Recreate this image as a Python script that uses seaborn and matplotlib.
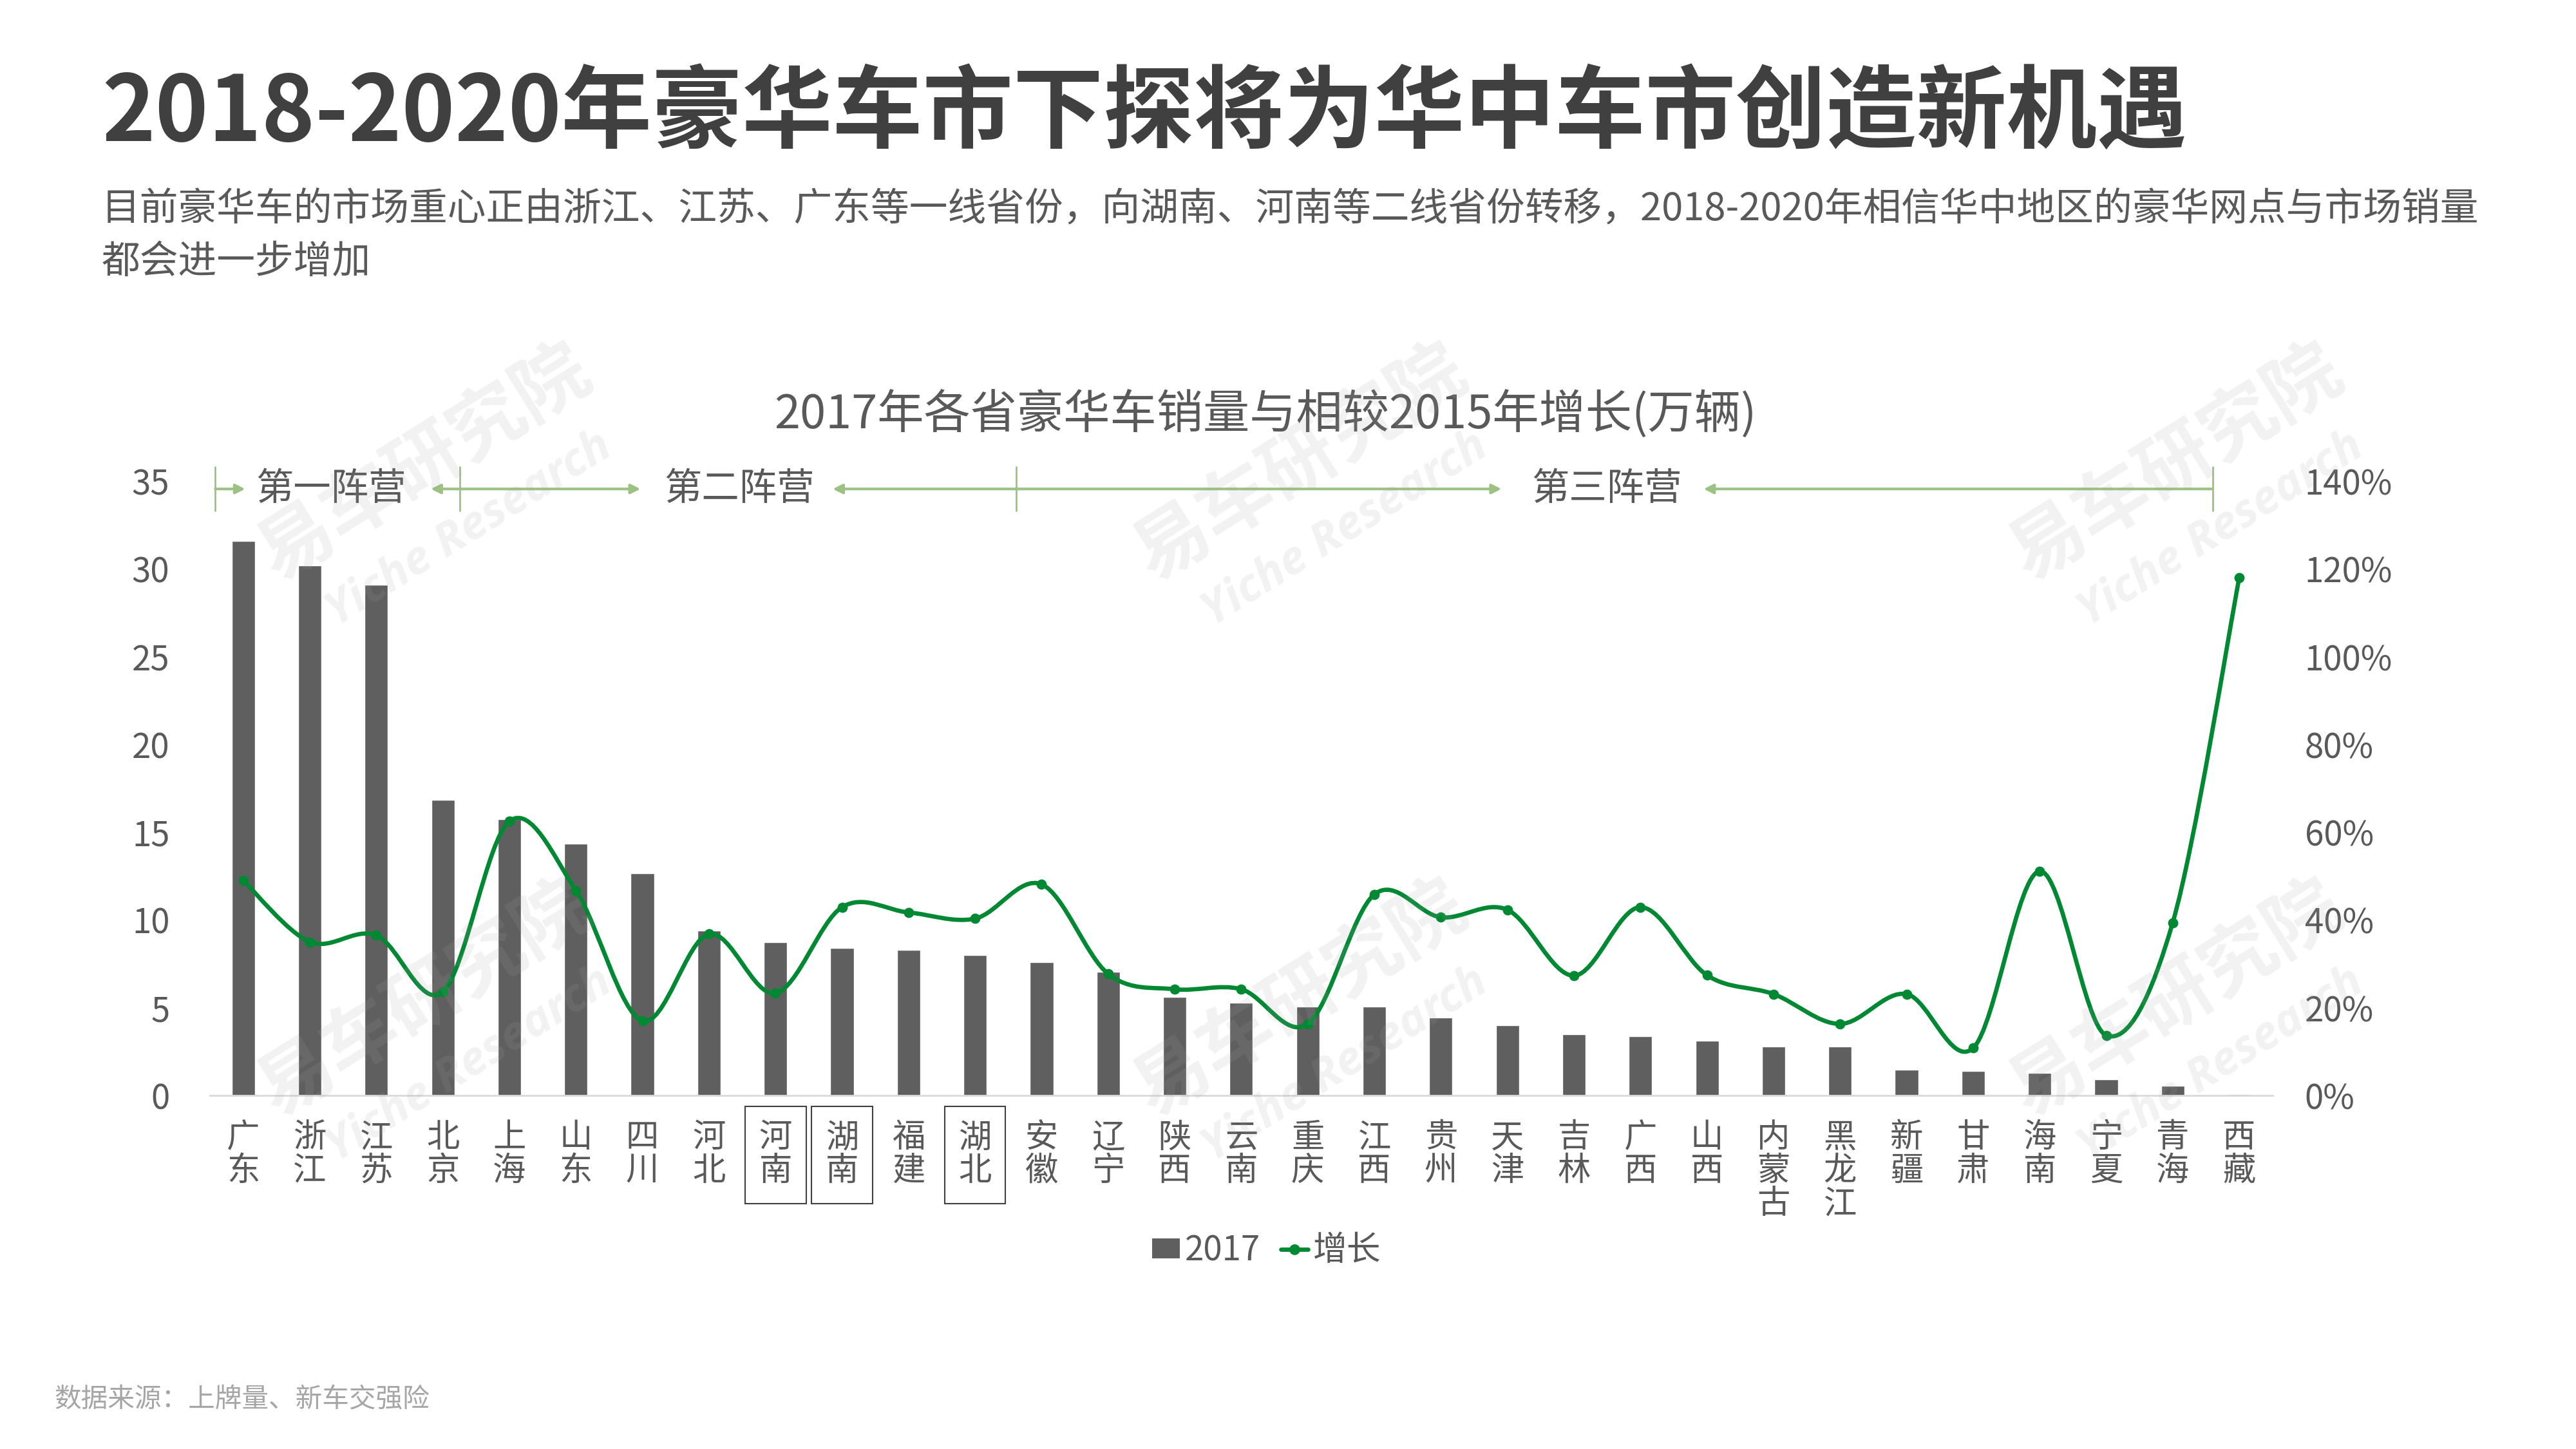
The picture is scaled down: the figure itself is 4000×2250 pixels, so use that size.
import numpy as np
import pandas as pd
import matplotlib
matplotlib.use("Agg")
import matplotlib.pyplot as plt
import seaborn as sns
from matplotlib.path import Path
from matplotlib.patches import PathPatch, Rectangle, FancyArrowPatch, Patch
from matplotlib.lines import Line2D
from matplotlib.transforms import blended_transform_factory
from matplotlib.ticker import PercentFormatter

# ---------------- data ----------------
provinces = ['广东', '浙江', '江苏', '北京', '上海', '山东', '四川', '河北', '河南', '湖南',
             '福建', '湖北', '安徽', '辽宁', '陕西', '云南', '重庆', '江西', '贵州', '天津',
             '吉林', '广西', '山西', '内蒙古', '黑龙江', '新疆', '甘肃', '海南', '宁夏', '青海', '西藏']
sales_2017 = [31.6, 30.2, 29.1, 16.85, 15.75, 14.35, 12.65, 9.4, 8.75, 8.4,
              8.3, 8.0, 7.6, 7.05, 5.6, 5.3, 5.08, 5.05, 4.45, 4.0,
              3.5, 3.38, 3.12, 2.8, 2.78, 1.46, 1.38, 1.27, 0.92, 0.56, 0.08]
growth = [0.49, 0.35, 0.365, 0.236, 0.625, 0.467, 0.17, 0.368, 0.233, 0.429,
          0.417, 0.403, 0.481, 0.277, 0.242, 0.242, 0.163, 0.458, 0.406, 0.423,
          0.273, 0.429, 0.274, 0.231, 0.163, 0.231, 0.108, 0.511, 0.137, 0.394, 1.18]
boxed = ['河南', '湖南', '湖北']
left_ticks = [0, 5, 10, 15, 20, 25, 30, 35]
right_ticks = [0, 0.2, 0.4, 0.6, 0.8, 1.0, 1.2, 1.4]
camp_labels = ['第一阵营', '第二阵营', '第三阵营']

title = '2018-2020年豪华车市下探将为华中车市创造新机遇'
subtitle1 = '目前豪华车的市场重心正由浙江、江苏、广东等一线省份，向湖南、河南等二线省份转移，2018-2020年相信华中地区的豪华网点与市场销量'
subtitle2 = '都会进一步增加'
chart_title = '2017年各省豪华车销量与相较2015年增长(万辆)'
source = '数据来源：上牌量、新车交强险'
legend_labels = ['2017', '增长']

# ---------------- style ----------------
sns.set_theme(style='white')
plt.rcParams['font.family'] = ['Noto Sans CJK SC', 'DejaVu Sans']

BAR = '#5F5F5F'
GREEN = '#008832'
ARROW = '#9DC183'
TXT = '#595959'

fig = plt.figure(figsize=(40, 22.5), dpi=100)
ax = fig.add_axes([0.0815, 0.244, 0.8007, 0.424])

df = pd.DataFrame({'province': provinces, 'sales': sales_2017, 'growth': growth})
df['pos'] = np.arange(len(df))

sns.barplot(data=df, x='province', y='sales', color=BAR, saturation=1,
            width=0.35, ax=ax, zorder=2)
ax.set_xlim(-0.5, len(df) - 0.5)
ax.set_ylim(0, 35)
ax.set_yticks(left_ticks)
ax.set_xlabel('')
ax.set_ylabel('')
ax.set_xticks(df['pos'])
ax.set_xticklabels(['\n'.join(p) for p in provinces], fontsize=37, color=TXT,
                   linespacing=0.95, va='top')
ax.tick_params(axis='x', length=0, pad=28)
ax.tick_params(axis='y', length=0, pad=45, labelsize=38, labelcolor=TXT)
for s in ['top', 'right', 'left']:
    ax.spines[s].set_visible(False)
ax.spines['bottom'].set_color('#D9D9D9')
ax.spines['bottom'].set_linewidth(2)

# secondary axis: growth
ax2 = ax.twinx()
ax2.set_ylim(0, 1.4)
ax2.set_yticks(right_ticks)
ax2.yaxis.set_major_formatter(PercentFormatter(1.0, decimals=0))
ax2.tick_params(axis='y', length=0, pad=36, labelsize=38, labelcolor=TXT)
for s in ax2.spines.values():
    s.set_visible(False)
ax2.grid(False)
ax.grid(False)

# Excel-like smoothed line (Catmull-Rom bezier through the data points)
P = np.column_stack([df['pos'].to_numpy(float), df['growth'].to_numpy(float)])
n = len(P)
verts = [P[0]]
codes = [Path.MOVETO]
for i in range(n - 1):
    p0 = P[i - 1] if i > 0 else P[i]
    p1 = P[i]
    p2 = P[i + 1]
    p3 = P[i + 2] if i + 2 < n else P[i + 1]
    verts += [p1 + (p2 - p0) / 6.0, p2 - (p3 - p1) / 6.0, p2]
    codes += [Path.CURVE4] * 3
ax2.add_patch(PathPatch(Path(verts, codes), facecolor='none', edgecolor=GREEN,
                        lw=4.8, zorder=3, capstyle='round', joinstyle='round'))
sns.scatterplot(data=df, x='pos', y='growth', ax=ax2, color=GREEN, s=130,
                edgecolor=GREEN, linewidth=0, zorder=4, legend=False)
ax2.set_xlabel('')
ax2.set_ylabel('')
ax2.set_xlim(-0.5, len(df) - 0.5)

# boxes around highlighted provinces
trans = blended_transform_factory(ax.transData, ax.transAxes)
for name in boxed:
    i = provinces.index(name)
    ax.add_patch(Rectangle((i - 0.458, -0.176), 0.916, 0.158, transform=trans,
                           fill=False, edgecolor='#404040', lw=1.5, clip_on=False))

# camp annotations
ya = 34.55
sep_x = [-0.42, 3.26, 11.62, 29.6]
for sx in sep_x:
    ax.plot([sx, sx], [33.3, 35.8], color=ARROW, lw=2, clip_on=False, zorder=5)
arrow_spans = [(-0.42, 0.03, '-|>'), (2.82, 5.97, '<|-|>'), (8.86, 18.91, '<|-|>'), (21.95, 29.6, '<|-')]
for x0, x1, st in arrow_spans:
    ax.add_patch(FancyArrowPatch((x0, ya), (x1, ya), arrowstyle=st, mutation_scale=22,
                                 color=ARROW, lw=3, clip_on=False, shrinkA=0, shrinkB=0,
                                 zorder=5))
camp_x = [1.32, 7.46, 20.49]
for cx, lab in zip(camp_x, camp_labels):
    ax.text(cx, ya, lab, ha='center', va='center', fontsize=42, color=TXT, zorder=6)

# titles
fig.text(0.0395, 0.921, title, fontsize=101, fontweight='bold', color='#404040',
         ha='left', va='center')
fig.text(0.0395, 0.855, subtitle1, fontsize=43, color=TXT, ha='left', va='center')
fig.text(0.0395, 0.819, subtitle2, fontsize=43, color=TXT, ha='left', va='center')
fig.text(0.4913, 0.714, chart_title, fontsize=52, color=TXT, ha='center', va='center')
fig.text(0.021, 0.034, source, fontsize=30, color='#A6A6A6', ha='left', va='center')

# legend
handles = [Patch(facecolor=BAR, edgecolor='none'),
           Line2D([], [], color=GREEN, lw=4.8, marker='o', markersize=11)]
fig.legend(handles, legend_labels, loc='center', bbox_to_anchor=(0.4917, 0.137), ncol=2,
           frameon=False, fontsize=38, handlelength=0.8, handleheight=0.5,
           handletextpad=0.15, columnspacing=0.6, labelcolor=TXT)

# watermarks
wm_pos = [(0.165, 0.68), (0.505, 0.68), (0.845, 0.68), (0.165, 0.31), (0.505, 0.31), (0.845, 0.31)]
for wx, wy in wm_pos:
    fig.text(wx, wy, '易车研究院', fontsize=84, fontweight='bold', rotation=32,
             color='#A3A3A3', alpha=0.14, ha='center', va='center', zorder=10)
    fig.text(wx + 0.017, wy - 0.045, 'Yiche Research', fontsize=52, fontweight='bold',
             style='italic', rotation=32, color='#A3A3A3', alpha=0.14, ha='center',
             va='center', zorder=10, family=['Open Sans', 'DejaVu Sans'])

fig.savefig('out.png', dpi=100)
